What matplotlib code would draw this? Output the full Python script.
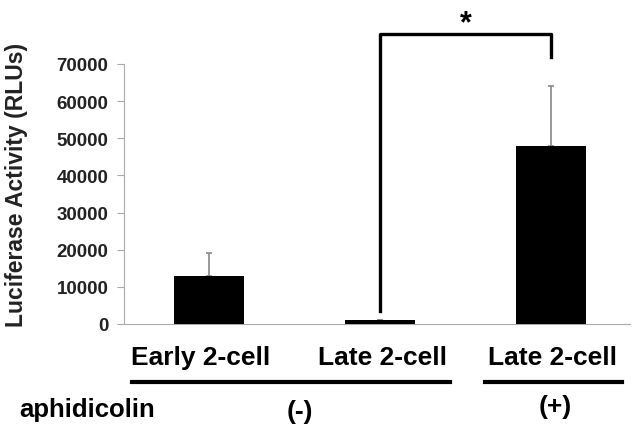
import matplotlib.pyplot as plt

plt.rcParams['font.family'] = ['Liberation Sans', 'DejaVu Sans']
plt.rcParams['font.weight'] = 'bold'

# values
stages = ['Early 2-cell', 'Late 2-cell', 'Late 2-cell']
means = [12800, 1000, 48000]
errs = [6200, 200, 16200]
yticks = [0, 10000, 20000, 30000, 40000, 50000, 60000, 70000]

fig = plt.figure(figsize=(6.32, 4.31), dpi=100)
ax = fig.add_axes([0.196, 0.246, 0.801, 0.754])

x = list(range(len(means)))
ax.bar(x, means, width=0.41, color='black', zorder=3)
ax.errorbar(x, means, yerr=[[0] * 3, errs], fmt='none', ecolor='#888888',
            elinewidth=1.2, capsize=2, capthick=1.2, zorder=2)

ax.set_xlim(-0.497, 2.46)
ax.set_ylim(0, 87500)
ax.set_yticks(yticks)
ax.set_yticklabels([str(v) for v in yticks], fontsize=13.5, fontweight='bold')
ax.set_xticks([])
for s in ['top', 'right']:
    ax.spines[s].set_visible(False)
ax.spines['left'].set_bounds(0, 70000)
ax.spines['left'].set_color('#aaaaaa')
ax.spines['bottom'].set_color('#aaaaaa')
ax.tick_params(axis='y', colors='#aaaaaa', length=5, pad=6, labelcolor='#222222')
ax.set_ylabel('Luciferase Activity (RLUs)', fontsize=16.5, fontweight='bold',
              color='#222222')
ax.yaxis.set_label_coords(-0.19, 0.43)

# significance bracket
ax.plot([1, 1, 2, 2], [3500, 78000, 78000, 71900], color='black', lw=2.4,
        clip_on=False)
ax.text(1.5, 76800, '*', ha='center', va='bottom', fontsize=22, fontweight='bold')

# category labels and groups below the axis
for xi, lab, dx in zip(x, stages, [-6, 2, 1]):
    ax.annotate(lab, (xi, 0), xytext=(dx, -15), textcoords='offset points',
                ha='center', va='top', fontsize=19, fontweight='bold',
                annotation_clip=False)
fig.add_artist(plt.Line2D([0.209, 0.712], [0.111, 0.111], color='black', lw=3))
fig.add_artist(plt.Line2D([0.767, 0.984], [0.111, 0.111], color='black', lw=3))
fig.text(0.03, 0.048, 'aphidicolin', fontsize=18.5, fontweight='bold', va='center')
fig.text(0.475, 0.044, '(-)', fontsize=19, fontweight='bold', va='center', ha='center')
fig.text(0.878, 0.056, '(+)', fontsize=19, fontweight='bold', va='center', ha='center')

fig.savefig('out.png', dpi=100)
